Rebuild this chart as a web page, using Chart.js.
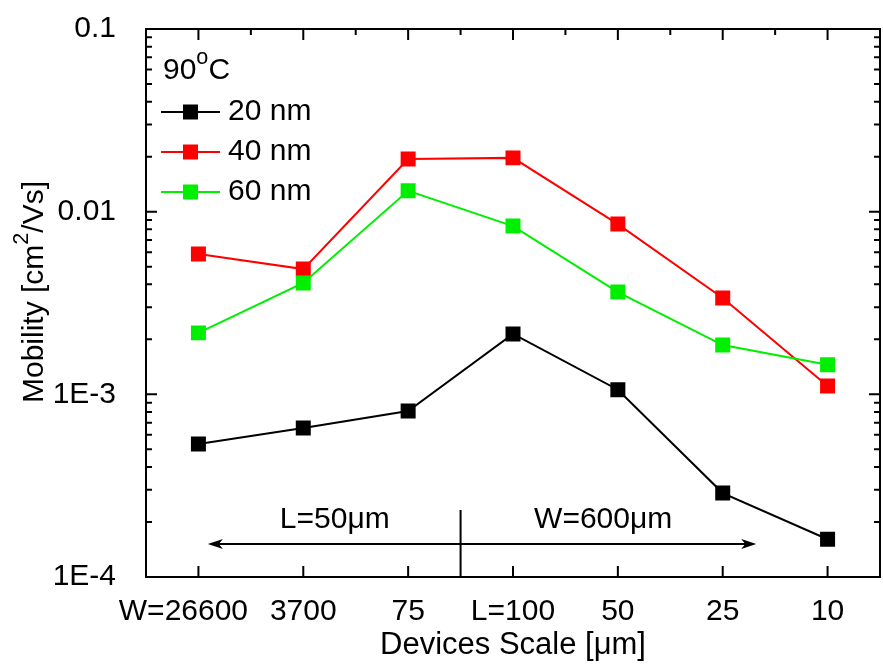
<!DOCTYPE html>
<html lang="en">
<head>
<meta charset="UTF-8" />
<title>Mobility vs devices scale</title>
<script src="https://cdn.jsdelivr.net/npm/chart.js@4.4.1/dist/chart.umd.min.js"></script>
<style>
html,body{margin:0;padding:0;background:#fff}
.wrap{width:883px;height:665px;position:relative}
#mob{display:block}
</style>
</head>
<body>
<div class="wrap"><canvas id="mob" width="883" height="665"></canvas></div>

<script>
/* ── data ───────────────────────────────────────────────────────── */
const categories = ['W=26600','3700','75','L=100','50','25','10'];
const nm20 = [5.35e-4, 6.54e-4, 8.1e-4, 2.14e-3, 1.06e-3, 2.88e-4, 1.61e-4];
const nm40 = [5.86e-3, 4.85e-3, 0.0194, 0.0197, 8.55e-3, 3.37e-3, 1.11e-3];
const nm60 = [2.17e-3, 4.07e-3, 0.0130, 8.34e-3, 3.63e-3, 1.86e-3, 1.45e-3];
const yDecades = [1e-4, 1e-3, 1e-2, 1e-1];
const yTickLabels = ['1E-4', '1E-3', '0.01', '0.1'];
const seriesNames = ['20 nm', '40 nm', '60 nm'];
const seriesColors = ['#000000', '#ff0000', '#00ee00'];

const FONT = '"Liberation Sans", Arial, sans-serif';

/* ── helpers ───────────────────────────────────────────────────── */
// draws text pieces left to right, sup pieces smaller and raised
function drawRich(ctx, parts, x, y, size, align){
  const w = parts.reduce((s,p)=>{
    ctx.font = (p.sup ? size*0.72 : size) + 'px ' + FONT;
    return s + ctx.measureText(p.t).width;
  },0);
  let cx = align==='center' ? x - w/2 : x;
  ctx.textAlign = 'left';
  ctx.textBaseline = 'middle';
  parts.forEach(p=>{
    ctx.font = (p.sup ? size*0.72 : size) + 'px ' + FONT;
    ctx.fillText(p.t, cx, p.sup ? y - size*0.42 : y);
    cx += ctx.measureText(p.t).width;
  });
}

function arrowHead(ctx, x, y, dir){
  ctx.beginPath();
  ctx.moveTo(x, y);
  ctx.lineTo(x - dir*15, y - 5);
  ctx.lineTo(x - dir*11, y);
  ctx.lineTo(x - dir*15, y + 5);
  ctx.closePath();
  ctx.fill();
}

/* ── frame, inward ticks, annotations, legend ─────────────────── */
const decorations = {
  id:'decorations',
  afterDraw(chart){
    const {ctx, chartArea:a, scales:{x, y}} = chart;
    ctx.save();
    ctx.strokeStyle = '#000';
    ctx.fillStyle = '#000';
    ctx.lineWidth = 2;
    ctx.strokeRect(a.left, a.top, a.right - a.left, a.bottom - a.top);

    ctx.beginPath();
    // y ticks on both sides (major decades + minor 2..9)
    yDecades.forEach((d, k)=>{
      const py = y.getPixelForValue(d);
      ctx.moveTo(a.left, py); ctx.lineTo(a.left + 11, py);
      ctx.moveTo(a.right, py); ctx.lineTo(a.right - 11, py);
      if (k < yDecades.length - 1){
        for (let m = 2; m <= 9; m++){
          const pm = y.getPixelForValue(d*m);
          ctx.moveTo(a.left, pm); ctx.lineTo(a.left + 6, pm);
          ctx.moveTo(a.right, pm); ctx.lineTo(a.right - 6, pm);
        }
      }
    });
    // x ticks: bottom majors, top majors + halves
    categories.forEach((c, i)=>{
      const px = x.getPixelForValue(i);
      ctx.moveTo(px, a.bottom); ctx.lineTo(px, a.bottom - 11);
      ctx.moveTo(px, a.top); ctx.lineTo(px, a.top + 11);
      if (i < categories.length - 1){
        const ph = x.getPixelForValue(i + 0.5);
        ctx.moveTo(ph, a.top); ctx.lineTo(ph, a.top + 6);
      }
    });
    ctx.stroke();

    // divider and double arrow
    const xd = x.getPixelForValue(2.5);
    const ya = y.getPixelForValue(1.515e-4);
    const x0 = x.getPixelForValue(0.09), x1 = x.getPixelForValue(5.32);
    ctx.beginPath();
    ctx.moveTo(xd, y.getPixelForValue(2.33e-4)); ctx.lineTo(xd, a.bottom);
    ctx.moveTo(x0 + 10, ya); ctx.lineTo(x1 - 10, ya);
    ctx.stroke();
    arrowHead(ctx, x0, ya, -1);
    arrowHead(ctx, x1, ya, 1);

    const yt = y.getPixelForValue(2.05e-4);
    drawRich(ctx, [{t:'L=50μm'}], x.getPixelForValue(1.3), yt, 30, 'center');
    drawRich(ctx, [{t:'W=600μm'}], x.getPixelForValue(3.86), yt, 30, 'center');

    // axis titles
    drawRich(ctx, [{t:'Devices Scale [μm]'}], (a.left + a.right)/2, 645, 31, 'center');
    ctx.save();
    ctx.translate(35, 292);
    ctx.rotate(-Math.PI/2);
    drawRich(ctx, [{t:'Mobility [cm'},{t:'2',sup:true},{t:'/Vs]'}], 0, 0, 30, 'center');
    ctx.restore();

    // legend block
    drawRich(ctx, [{t:'90'},{t:'o',sup:true},{t:'C'}], a.left + 17, a.top + 42, 30, 'left');
    seriesNames.forEach((n, k)=>{
      const ly = a.top + 83 + k*40;
      ctx.strokeStyle = seriesColors[k];
      ctx.fillStyle = seriesColors[k];
      ctx.beginPath();
      ctx.moveTo(a.left + 15, ly); ctx.lineTo(a.left + 74, ly);
      ctx.stroke();
      ctx.fillRect(a.left + 37, ly - 7.5, 15, 15);
      ctx.fillStyle = '#000';
      drawRich(ctx, [{t:n}], a.left + 82, ly, 30, 'left');
    });
    ctx.restore();
  }
};

/* ── chart ─────────────────────────────────────────────────────── */
const mkSet = (data, k) => ({
  label: seriesNames[k], data,
  borderColor: seriesColors[k], backgroundColor: seriesColors[k],
  borderWidth: 2, pointStyle: 'rect', pointRadius: 10.6,
  pointBorderWidth: 0, pointHoverRadius: 10.6, tension: 0
});

new Chart(document.getElementById('mob').getContext('2d'), {
  type: 'line',
  data: {
    labels: categories,
    datasets: [mkSet(nm60, 2), mkSet(nm40, 1), mkSet(nm20, 0)]
  },
  options: {
    responsive: false,
    animation: false,
    events: [],
    layout: {autoPadding: false, padding: {top: 29, right: 3, left: 0, bottom: 0}},
    plugins: {legend: {display: false}, tooltip: {enabled: false}},
    scales: {
      x: {
        type: 'category',
        offset: true,
        grid: {display: false},
        border: {display: false},
        ticks: {
          color: '#000', font: {family: FONT, size: 30}, padding: 9, maxRotation: 0, autoSkip: false,
          // first label sits a little left of its tick in the original
          callback: (v, i) => i === 0 ? categories[i] + '\u2002\u2002' : categories[i]
        },
        afterFit(s){ s.height = 88; s.paddingLeft = 0; s.paddingRight = 0; }
      },
      y: {
        type: 'logarithmic',
        min: 1e-4, max: 0.1,
        grid: {display: false},
        border: {display: false},
        afterBuildTicks(s){ s.ticks = yDecades.map(v => ({value: v})); },
        ticks: {
          color: '#000', font: {family: FONT, size: 30}, padding: 22,
          callback: v => yTickLabels[yDecades.indexOf(v)] ?? ''
        },
        afterFit(s){ s.width = 146; s.paddingTop = 0; s.paddingBottom = 0; }
      }
    }
  },
  plugins: [decorations]
});
</script>
</body>
</html>
